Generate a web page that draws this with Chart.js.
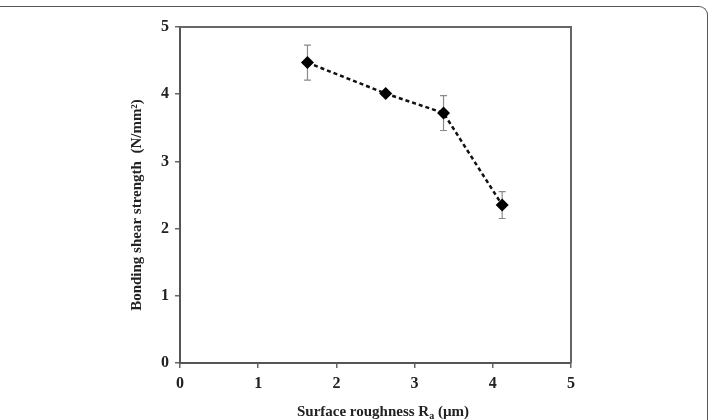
<!DOCTYPE html>
<html>
<head>
<meta charset="utf-8">
<script src="https://cdn.jsdelivr.net/npm/chart.js@4.4.0/dist/chart.umd.min.js"></script>
<style>
    html, body { margin: 0; padding: 0; background: #fff; overflow: hidden; }
    #wrap { position: relative; width: 711px; height: 420px; }
    #frame {
        position: absolute; left: -10px; top: 6px; width: 718px; height: 440px;
        border-top: 1.5px solid #555; border-right: 1.5px solid #555;
        border-top-right-radius: 9px; box-sizing: border-box;
    }
    canvas { position: absolute; left: 0; top: 0; }
</style>
</head>
<body>
<div id="wrap">
    <div id="frame"></div>
    <canvas id="chart" width="711" height="420"></canvas>
</div>
<script>
// surface roughness Ra (µm) vs bonding shear strength (N/mm²)
const roughness = [1.63, 2.63, 3.37, 4.12];
const shearStrength = [4.47, 4.01, 3.72, 2.35];
const errorBars = [0.26, 0, 0.26, 0.2];
const xTicks = [0, 1, 2, 3, 4, 5];
const yTicks = [0, 1, 2, 3, 4, 5];

const serif = "'Liberation Serif', 'Times New Roman', serif";

// gray box round the plot area (top and right sides)
const boxPlugin = {
    id: "box",
    beforeDatasetsDraw(chart) {
        const {ctx, chartArea: a} = chart;
        ctx.save();
        ctx.strokeStyle = "#666";
        ctx.lineWidth = 2;
        ctx.beginPath();
        ctx.moveTo(a.left, a.top);
        ctx.lineTo(a.right, a.top);
        ctx.lineTo(a.right, a.bottom);
        ctx.stroke();
        ctx.restore();
    }
};

const errorBarPlugin = {
    id: "errorBars",
    beforeDatasetsDraw(chart) {
        const {ctx, scales} = chart;
        ctx.save();
        ctx.strokeStyle = "#8a8a8a";
        ctx.lineWidth = 1.2;
        roughness.forEach((x, i) => {
            if (!errorBars[i]) return;
            const px = scales.x.getPixelForValue(x);
            const top = scales.y.getPixelForValue(shearStrength[i] + errorBars[i]);
            const bot = scales.y.getPixelForValue(shearStrength[i] - errorBars[i]);
            ctx.beginPath();
            ctx.moveTo(px, top); ctx.lineTo(px, bot);
            ctx.moveTo(px - 3.5, top); ctx.lineTo(px + 3.5, top);
            ctx.moveTo(px - 3.5, bot); ctx.lineTo(px + 3.5, bot);
            ctx.stroke();
        });
        ctx.restore();
    }
};

// axis titles drawn by hand for the sub/superscripts
const titlePlugin = {
    id: "titles",
    afterDraw(chart) {
        const {ctx} = chart;
        ctx.save();
        ctx.fillStyle = "#222";
        ctx.textBaseline = "alphabetic";

        const main = "bold 15px " + serif;
        const small = "bold 10px " + serif;
        ctx.font = main;
        const p1 = "Surface roughness R";
        const p3 = " (µm)";
        const w1 = ctx.measureText(p1).width;
        const w3 = ctx.measureText(p3).width;
        ctx.font = small;
        const w2 = ctx.measureText("a").width;
        let x = 383 - (w1 + w2 + w3) / 2;
        const y = 416;
        ctx.font = main;
        ctx.fillText(p1, x, y);
        ctx.font = small;
        ctx.fillText("a", x + w1, y + 3);
        ctx.font = main;
        ctx.fillText(p3, x + w1 + w2, y);

        ctx.translate(141, 205);
        ctx.rotate(-Math.PI / 2);
        ctx.textAlign = "center";
        ctx.font = main;
        ctx.fillText("Bonding shear strength  (N/mm\u00B2)", 0, 0);
        ctx.restore();
    }
};

new Chart(document.getElementById("chart").getContext("2d"), {
    type: "line",
    data: {
        datasets: [
            {
                data: roughness.map((x, i) => ({x: x, y: shearStrength[i]})),
                borderColor: "#111",
                borderWidth: 2.5,
                borderDash: [4, 3],
                pointStyle: "rectRot",
                pointRadius: 6.5,
                pointBackgroundColor: "#000",
                pointBorderColor: "#000",
                pointBorderWidth: 0,
                tension: 0,
            },
        ],
    },
    options: {
        responsive: false,
        animation: false,
        events: [],
        layout: {padding: {left: 150, right: 140, top: 27, bottom: 27}},
        plugins: {legend: {display: false}, tooltip: {enabled: false}},
        scales: {
            x: {
                type: "linear",
                min: 0,
                max: 5,
                afterFit: (s) => { s.height = 30; },
                afterBuildTicks: (s) => { s.ticks = xTicks.map((v) => ({value: v})); },
                grid: {drawOnChartArea: false, drawTicks: true, tickLength: 5, color: "#666", lineWidth: 1.5},
                border: {display: true, color: "#555", width: 2},
                ticks: {padding: 6, color: "#222", font: {family: serif, size: 16, weight: "bold"}},
            },
            y: {
                min: 0,
                max: 5,
                afterFit: (s) => { s.width = 30; },
                afterBuildTicks: (s) => { s.ticks = yTicks.map((v) => ({value: v})); },
                grid: {drawOnChartArea: false, drawTicks: true, tickLength: 5, color: "#666", lineWidth: 1.5},
                border: {display: true, color: "#555", width: 2},
                ticks: {padding: 6, color: "#222", font: {family: serif, size: 16, weight: "bold"}},
            },
        },
    },
    plugins: [boxPlugin, errorBarPlugin, titlePlugin],
});
</script>
</body>
</html>
